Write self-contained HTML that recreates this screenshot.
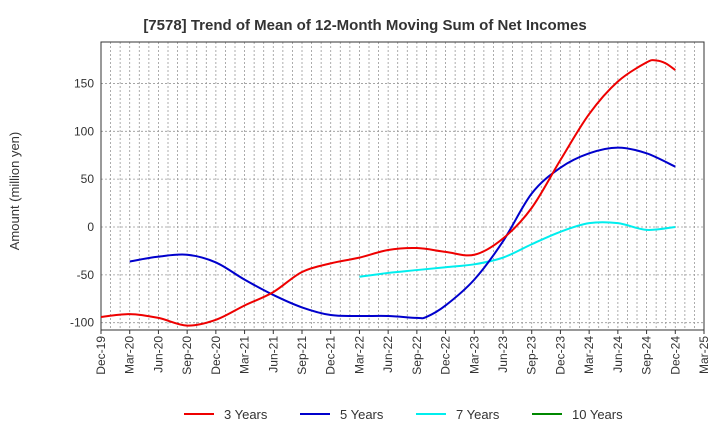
<!DOCTYPE html>
<html><head><meta charset="utf-8"><style>
body{margin:0;background:#fff;font-family:"Liberation Sans",sans-serif}
</style></head><body>
<svg id="chart" width="720" height="440" xmlns="http://www.w3.org/2000/svg" font-family="Liberation Sans, sans-serif">
<text x="365" y="30" text-anchor="middle" font-size="15" font-weight="bold" fill="#333">[7578]  Trend of Mean of 12-Month Moving Sum of Net Incomes</text>
<text transform="translate(19,191) rotate(-90)" text-anchor="middle" font-size="13" fill="#333">Amount (million yen)</text>
<g id="grid"></g><g id="axes"></g><g id="series"></g>
<g font-size="13" fill="#333">
<line x1="184" y1="414" x2="214" y2="414" stroke="#e00" stroke-width="2"/><text x="224" y="419">3 Years</text>
<line x1="300" y1="414" x2="330" y2="414" stroke="#00c" stroke-width="2"/><text x="340" y="419">5 Years</text>
<line x1="416" y1="414" x2="446" y2="414" stroke="#0ee" stroke-width="2"/><text x="456" y="419">7 Years</text>
<line x1="532" y1="414" x2="562" y2="414" stroke="#080" stroke-width="2"/><text x="572" y="419">10 Years</text>
</g>
</svg>
<script>
const xLabels=["Dec-19","Mar-20","Jun-20","Sep-20","Dec-20","Mar-21","Jun-21","Sep-21","Dec-21","Mar-22","Jun-22","Sep-22","Dec-22","Mar-23","Jun-23","Sep-23","Dec-23","Mar-24","Jun-24","Sep-24","Dec-24","Mar-25"];
const yTicks=[-100,-50,0,50,100,150];
const m3=[0,3,6,9,12,15,18,21,24,27,30,33,36,39,42,45,48,51,54,57,58,59,60];
const v3=[-94,-91,-95,-103,-97,-82,-68,-47,-38,-32,-24,-22,-26,-29,-12,20,70,118,152,172,174,171,164];
const m5=[3,6,9,12,15,18,21,24,27,30,33,34,36,39,42,45,48,51,54,57,60];
const v5=[-36,-31,-29,-37,-55,-71,-84,-92,-93,-93,-95,-94,-82,-55,-15,35,62,77,83,77,63];
const m7=[27,30,33,36,39,42,45,48,51,54,57,60];
const v7=[-52,-48,-45,-42,-39,-32,-18,-5,4,4,-3,0];
const L=101,R=704,T=42,B=330;
const X=m=>L+m*(R-L)/63, Y=v=>227-v*0.957;
const NS="http://www.w3.org/2000/svg";
function mk(tag,attrs,parent){const e=document.createElementNS(NS,tag);for(const k in attrs)e.setAttribute(k,attrs[k]);parent.appendChild(e);return e;}
const grid=document.getElementById('grid'),axes=document.getElementById('axes'),ser=document.getElementById('series');
for(let m=1;m<63;m++){const l=mk('line',{x1:X(m),x2:X(m),y1:T,y2:B,stroke:'#999','stroke-dasharray':'2,2','stroke-width':0.8},grid);

}
yTicks.forEach(v=>{const l=mk('line',{x1:L,x2:R,y1:Y(v),y2:Y(v),stroke:'#999','stroke-dasharray':'2,2','stroke-width':0.8},grid);


const t=mk('text',{x:L-7,y:Y(v)+4,'text-anchor':'end','font-size':12,fill:'#333'},axes);t.textContent=v;

});
const fr=mk('rect',{x:L,y:T,width:R-L,height:B-T,fill:'none',stroke:'#333'},axes);


xLabels.forEach((s,i)=>{const x=X(i*3);mk('line',{x1:x,x2:x,y1:B,y2:B+4,stroke:'#333'},axes);
const t=mk('text',{transform:`translate(${x+4},${B+6}) rotate(-90)`,'text-anchor':'end','font-size':12,fill:'#333'},axes);t.textContent=s;

});
function path(ms,vs){const p=ms.map((m,i)=>[X(m),Y(vs[i])]);let d=`M${p[0][0]},${p[0][1]}`;
for(let i=0;i<p.length-1;i++){const p0=p[i-1]||p[i],p1=p[i],p2=p[i+1],p3=p[i+2]||p2;
d+=` C${p1[0]+(p2[0]-p0[0])/6},${p1[1]+(p2[1]-p0[1])/6} ${p2[0]-(p3[0]-p1[0])/6},${p2[1]-(p3[1]-p1[1])/6} ${p2[0]},${p2[1]}`;}return d;}
[[m7,v7,'#0ee','series-7-years'],[m5,v5,'#00c','series-5-years'],[m3,v3,'#e00','series-3-years']].forEach(([m,v,c,n])=>{
const p=mk('path',{d:path(m,v),fill:'none',stroke:c,'stroke-width':2},ser);

});
</script>
</body></html>
